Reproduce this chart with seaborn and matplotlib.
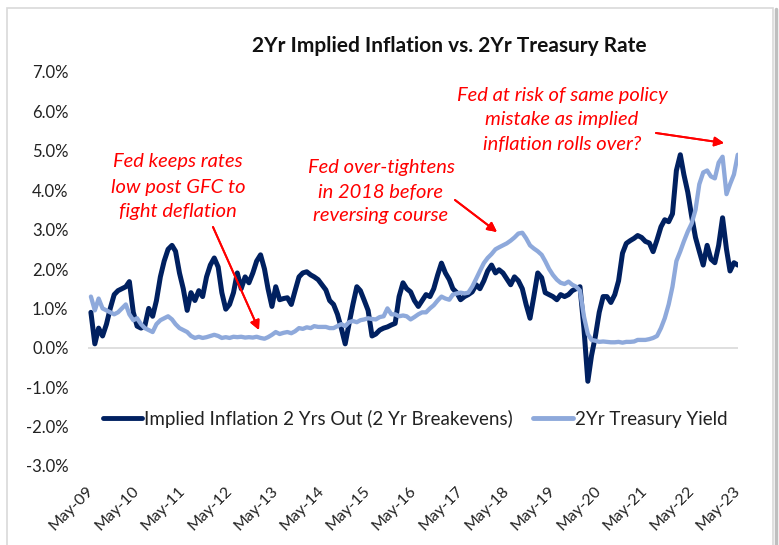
import matplotlib
matplotlib.use("Agg")
import matplotlib.pyplot as plt
import matplotlib.dates as mdates
from matplotlib.ticker import MultipleLocator, FuncFormatter
from matplotlib.lines import Line2D
from matplotlib.patches import Rectangle
import seaborn as sns
import pandas as pd

# ---------------- data ----------------
start_month = "2009-05-01"
end_month = "2023-05-01"

breakevens = [
    0.9, 0.1, 0.5, 0.3, 0.6, 1.0, 1.35, 1.45, 1.5, 1.55,
    1.68, 0.9, 0.55, 0.5, 0.55, 1.0, 0.8, 1.2, 1.8, 2.2,
    2.5, 2.6, 2.45, 1.9, 1.5, 0.95, 1.4, 1.2, 1.45, 1.3,
    1.8, 2.1, 2.28, 2.05, 1.4, 0.98, 1.1, 1.4, 1.9, 1.5,
    1.8, 1.65, 1.9, 2.2, 2.36, 2.0, 1.5, 1.05, 1.55, 1.22,
    1.25, 1.27, 1.1, 1.45, 1.8, 1.9, 1.93, 1.85, 1.8, 1.73,
    1.6, 1.47, 1.2, 1.1, 0.85, 0.5, 0.1, 0.6, 1.1, 1.55,
    1.45, 1.2, 0.95, 0.3, 0.35, 0.45, 0.5, 0.53, 0.58, 0.62,
    1.3, 1.65, 1.5, 1.42, 1.2, 1.05, 1.2, 1.35, 1.3, 1.5,
    1.85, 2.15, 1.9, 1.73, 1.5, 1.4, 1.22, 1.3, 1.35, 1.42,
    1.6, 1.5, 1.7, 1.95, 2.1, 1.9, 1.98, 1.9, 1.75, 1.6,
    1.8, 1.7, 1.5, 1.1, 0.75, 1.3, 1.9, 1.78, 1.4, 1.35,
    1.3, 1.22, 1.35, 1.3, 1.35, 1.45, 1.5, 1.55, 0.5, -0.85,
    -0.2, 0.3, 0.9, 1.3, 1.3, 1.15, 1.35, 1.7, 2.4, 2.65,
    2.72, 2.78, 2.85, 2.8, 2.7, 2.66, 2.44, 2.74, 3.07, 3.25,
    3.2, 3.4, 4.5, 4.9, 4.4, 3.95, 3.35, 2.8, 2.45, 2.1,
    2.6, 2.25, 2.16, 2.6, 3.3, 2.5, 1.95, 2.16, 2.1,
]

treasury_2yr = [
    1.3, 0.95, 1.25, 1.0, 0.95, 0.9, 0.85, 0.9, 1.0, 1.1,
    0.85, 0.7, 0.75, 0.6, 0.5, 0.45, 0.4, 0.6, 0.7, 0.75,
    0.8, 0.72, 0.6, 0.5, 0.45, 0.4, 0.3, 0.25, 0.28, 0.25,
    0.27, 0.3, 0.33, 0.3, 0.25, 0.27, 0.25, 0.28, 0.27, 0.28,
    0.26, 0.27, 0.26, 0.28, 0.25, 0.23, 0.27, 0.33, 0.4, 0.35,
    0.38, 0.4, 0.37, 0.42, 0.5, 0.48, 0.52, 0.5, 0.55, 0.53,
    0.53, 0.53, 0.5, 0.5, 0.55, 0.6, 0.55, 0.65, 0.68, 0.65,
    0.7, 0.72, 0.75, 0.73, 0.72, 0.78, 0.8, 1.0, 0.85, 0.85,
    0.8, 0.82, 0.8, 0.72, 0.78, 0.85, 0.9, 0.9, 1.0, 1.08,
    1.2, 1.3, 1.25, 1.22, 1.35, 1.38, 1.4, 1.38, 1.4, 1.55,
    1.75, 1.95, 2.15, 2.28, 2.38, 2.5, 2.55, 2.6, 2.65, 2.72,
    2.8, 2.9, 2.92, 2.78, 2.6, 2.52, 2.45, 2.36, 2.2, 2.0,
    1.85, 1.73, 1.65, 1.62, 1.68, 1.6, 1.55, 1.45, 0.8, 0.35,
    0.2, 0.18, 0.15, 0.16, 0.15, 0.14, 0.14, 0.15, 0.13, 0.15,
    0.15, 0.16, 0.2, 0.2, 0.2, 0.22, 0.25, 0.3, 0.5, 0.75,
    1.1, 1.55, 2.2, 2.45, 2.7, 2.95, 3.15, 3.5, 4.15, 4.45,
    4.5, 4.35, 4.3, 4.7, 4.85, 3.9, 4.15, 4.4, 4.9,
]

series_names = ["Implied Inflation 2 Yrs Out (2 Yr Breakevens)", "2Yr Treasury Yield"]
series_colors = ["#002060", "#8EA9DB"]
series_widths = [3.6, 3.1]
title = "2Yr Implied Inflation vs. 2Yr Treasury Rate"
annotations = [
    ["Fed keeps rates", "low post GFC to", "fight deflation"],
    ["Fed over-tightens", "in 2018 before", "reversing course"],
    ["Fed at risk of same policy", "mistake as implied", "inflation rolls over?"],
]

# ---------------- build frame ----------------
dates = pd.date_range(start_month, end_month, freq="MS")
df = pd.DataFrame({
    "date": list(dates) * 2,
    "value": breakevens + treasury_2yr,
    "series": [series_names[0]] * len(dates) + [series_names[1]] * len(dates),
})

sns.set_theme(style="white")
plt.rcParams["font.family"] = ["Lato", "DejaVu Sans"]

W, H = 779, 545
fig = plt.figure(figsize=(W / 100, H / 100), dpi=100)
fig.patch.set_facecolor("white")

def fx(px):
    return px / W

def fy(py):
    return 1 - py / H

ax = fig.add_axes([fx(88), fy(466), fx(738) - fx(88), fy(72) - fy(466)])

sns.lineplot(data=df, x="date", y="value", hue="series",
             palette=dict(zip(series_names, series_colors)),
             linewidth=3.0, ax=ax, legend=False)
for ln, w in zip(ax.lines, series_widths):
    ln.set_linewidth(w)
    ln.set_solid_joinstyle("round")

ax.set_ylim(-3, 7)
ax.set_xlim(pd.Timestamp("2009-04-08"), pd.Timestamp("2023-05-03"))
ax.yaxis.set_major_locator(MultipleLocator(1))
ax.yaxis.set_major_formatter(FuncFormatter(lambda v, p: f"{v:.1f}%"))
ax.xaxis.set_major_locator(mdates.MonthLocator(bymonth=5, bymonthday=1))
ax.xaxis.set_major_formatter(mdates.DateFormatter("%b-%y"))
ax.set_xlabel("")
ax.set_ylabel("")
for s in ax.spines.values():
    s.set_visible(False)
ax.axhline(0, color="#D9D9D9", linewidth=1.2, zorder=0)
ax.tick_params(axis="y", length=0, pad=14, labelsize=12, labelcolor="#222222")
ax.tick_params(axis="x", length=0, pad=16, labelsize=11.5, labelcolor="#222222")
for lab in ax.get_xticklabels():
    lab.set_rotation(45)
    lab.set_ha("right")
    lab.set_va("center")
    lab.set_rotation_mode("anchor")

# legend
handles = [Line2D([0], [0], color=c, lw=3.5) for c in series_colors]
leg = ax.legend(handles, series_names, loc="center", ncol=2,
                bbox_to_anchor=(fx(415), fy(419)), bbox_transform=fig.transFigure,
                frameon=False, fontsize=13.5, handlelength=2.1, handletextpad=0.1,
                columnspacing=1.1)
for t in leg.get_texts():
    t.set_color("#222222")

# title
fig.text(fx(449), fy(46), title, ha="center", va="center", fontsize=15,
         fontweight="bold", color="#111111")

# annotations
red = "#FF0000"
ann_pos = [(178, [162, 187, 212]), (381, [167, 192, 216]), (562, [95, 120, 145])]
for lines, (cx, ys) in zip(annotations, ann_pos):
    for line, yy in zip(lines, ys):
        fig.text(fx(cx), fy(yy), line, ha="center", va="center", fontsize=14.5,
                 style="italic", color=red)

arrows = [((213, 227), (259, 330)), ((455, 200), (497, 232)), ((656, 133), (724, 143))]
for (x0, y0), (x1, y1) in arrows:
    fig.add_artist(plt.annotate("", xy=(fx(x1), fy(y1)), xytext=(fx(x0), fy(y0)),
                                xycoords="figure fraction", textcoords="figure fraction",
                                arrowprops=dict(arrowstyle="-|>", color=red, lw=1.4,
                                                mutation_scale=14, shrinkA=0, shrinkB=0)))

# chart frame
fig.add_artist(Rectangle((fx(7), -0.01), fx(773) - fx(7), fy(8) + 0.01,
                         transform=fig.transFigure, fill=False,
                         edgecolor="#D9D9D9", linewidth=1.2))
fig.add_artist(Line2D([fx(776), fx(776)], [0, fy(9)], transform=fig.transFigure,
                      color="#BFBFBF", linewidth=2.5))

fig.savefig("out.png", dpi=100, facecolor="white")
